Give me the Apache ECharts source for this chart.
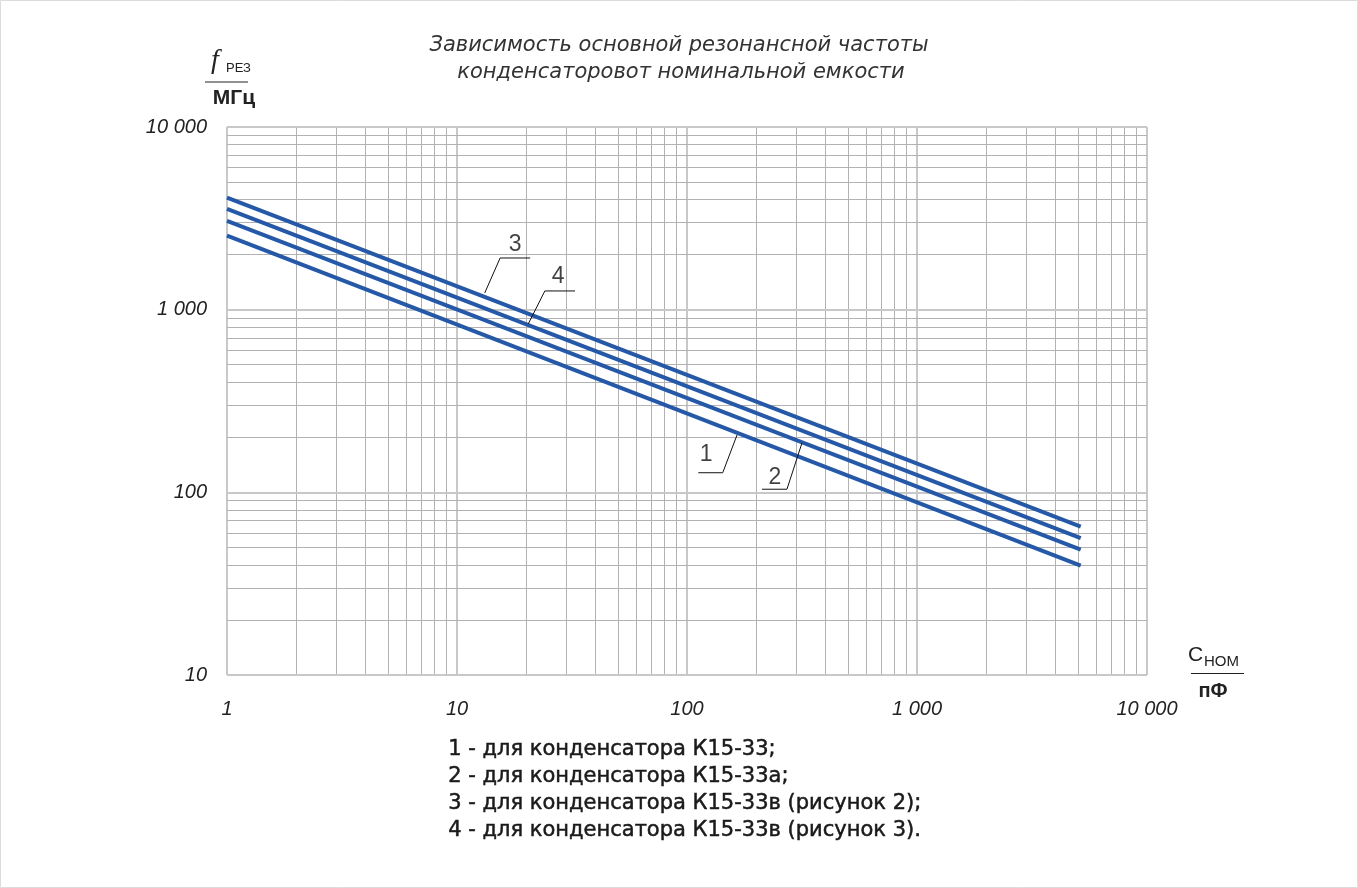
<!DOCTYPE html>
<html>
<head>
<meta charset="utf-8">
<script src="https://cdn.jsdelivr.net/npm/echarts@6/dist/echarts.min.js"></script>
<style>
  html, body { margin: 0; padding: 0; background: #fff; }
  #chart { width: 1358px; height: 888px; }
</style>
</head>
<body>
<div id="chart"></div>
<script>
// оси (логарифмические)
var xDecades = [1, 10, 100, 1000, 10000];
var yDecades = [10, 100, 1000, 10000];
var mantissas = [2, 3, 4, 5, 6, 7, 8, 9];

// C ном, пФ -- начало и конец каждой прямой
var capValues = [1, 5150];
// f рез, МГц
var line1 = [2540, 39.7];   // К15-33
var line2 = [3060, 48.6];   // К15-33а
var line3 = [4100, 64.9];   // К15-33в (рисунок 2)
var line4 = [3560, 56.1];   // К15-33в (рисунок 3)

// выноски с номерами кривых (в координатах графика)
var calloutNames  = ['1', '2', '3', '4'];
var calloutAnchor = [[165, 206], [316, 186], [13.2, 1234], [20.4, 835]];
var calloutElbow  = [[143, 128], [272, 104], [15.4, 1918], [24.1, 1266]];
var calloutEnd    = [[112, 128], [212, 104], [20.8, 1918], [32.6, 1266]];
var calloutText   = [[121, 160], [241, 121], [17.9, 2260], [27.5, 1510]];

var legendLines = [
  '1 - для конденсатора К15-33;',
  '2 - для конденсатора К15-33а;',
  '3 - для конденсатора К15-33в (рисунок 2);',
  '4 - для конденсатора К15-33в (рисунок 3).'
];

function fmt(v) {
  return String(Math.round(v)).replace(/\B(?=(\d{3})+(?!\d))/g, ' ');
}

function gridValues(decades) {
  var out = [];
  for (var i = 0; i < decades.length; i++) {
    out.push({ v: decades[i], major: true });
    if (i < decades.length - 1) {
      mantissas.forEach(function (m) { out.push({ v: decades[i] * m, major: false }); });
    }
  }
  return out;
}

var majorStyle = { color: '#c8c8c8', width: 2, type: 'solid' };
var minorStyle = { color: '#b2b2b2', width: 1, type: 'solid' };

var gridMarks = [];
gridValues(xDecades).forEach(function (g) {
  gridMarks.push({ xAxis: g.v, lineStyle: g.major ? majorStyle : minorStyle });
});
gridValues(yDecades).forEach(function (g) {
  gridMarks.push({ yAxis: g.v, lineStyle: g.major ? majorStyle : minorStyle });
});

function pts(ys) {
  return capValues.map(function (c, i) { return [c, ys[i]]; });
}

var blue = '#2559a8';
var seriesArr = [
  {
    name: 'grid', type: 'line', data: [], silent: true, z: 1,
    markLine: { z: 1, silent: true, symbol: ['none', 'none'], label: { show: false }, animation: false, data: gridMarks }
  }
];
[line1, line2, line3, line4].forEach(function (l, i) {
  seriesArr.push({
    name: String(i + 1), type: 'line', data: pts(l), showSymbol: false, symbol: 'none',
    lineStyle: { color: blue, width: 4, cap: 'butt' }, z: 10, silent: true
  });
});
calloutNames.forEach(function (n, i) {
  seriesArr.push({
    name: 'callout' + n, type: 'line', data: [calloutAnchor[i], calloutElbow[i], calloutEnd[i]],
    showSymbol: false, symbol: 'none', lineStyle: { color: '#111', width: 1 }, z: 11, silent: true
  });
});
seriesArr.push({
  name: 'labels', type: 'scatter', symbolSize: 0, z: 12, silent: true,
  data: calloutNames.map(function (n, i) { return { name: n, value: calloutText[i] }; }),
  label: { show: true, position: 'inside', formatter: '{b}', fontSize: 23, color: '#111', fontFamily: 'Liberation Sans' }
});

var legendGraphics = legendLines.map(function (t, i) {
  return {
    type: 'text', left: 448, top: 739 + i * 27,
    style: { text: t, fontSize: 21, fontFamily: 'DejaVu Sans', fill: '#1a1a1a', stroke: '#1a1a1a', lineWidth: 0.5 }
  };
});

var dom = document.getElementById('chart');
var myChart = echarts.init(dom);
var option = {
  animation: false,
  backgroundColor: '#fff',
  grid: { left: 227, top: 127, width: 920, height: 548 },
  xAxis: {
    type: 'log', logBase: 10, min: 1, max: 10000,
    axisLine: { show: false }, axisTick: { show: false }, splitLine: { show: false },
    axisLabel: {
      margin: 24, formatter: fmt, fontSize: 20, fontStyle: 'italic',
      fontFamily: 'Liberation Sans', color: '#222'
    }
  },
  yAxis: {
    type: 'log', logBase: 10, min: 10, max: 10000,
    axisLine: { show: false }, axisTick: { show: false }, splitLine: { show: false },
    axisLabel: {
      margin: 20, formatter: fmt, fontSize: 20, fontStyle: 'italic',
      fontFamily: 'Liberation Sans', color: '#222'
    }
  },
  graphic: [
    { type: 'rect', shape: { x: 0.5, y: 0.5, width: 1357, height: 887 }, style: { fill: 'none', stroke: '#dcdcdc', lineWidth: 1 }, silent: true },
    { type: 'text', x: 679, y: 46, style: { text: 'Зависимость основной резонансной частоты', fontSize: 21, fontStyle: 'italic', fontFamily: 'DejaVu Sans', fill: '#333', align: 'center', verticalAlign: 'middle' } },
    { type: 'text', x: 681, y: 73, style: { text: 'конденсаторовот номинальной емкости', fontSize: 21, fontStyle: 'italic', fontFamily: 'DejaVu Sans', fill: '#333', align: 'center', verticalAlign: 'middle' } },
    // f рез / МГц
    { type: 'text', x: 211, y: 47, style: { text: 'f', fontSize: 28, fontStyle: 'italic', fontFamily: 'Liberation Serif', fill: '#222' } },
    { type: 'text', x: 226, y: 68, style: { text: 'РЕЗ', fontSize: 13, fontFamily: 'Liberation Sans', fill: '#222', verticalAlign: 'middle' } },
    { type: 'line', shape: { x1: 205, y1: 82, x2: 248, y2: 82 }, style: { stroke: '#222', lineWidth: 1 } },
    { type: 'text', x: 234, y: 98, style: { text: 'МГц', fontSize: 21, fontWeight: 'bold', fontFamily: 'Liberation Sans', fill: '#222', align: 'center', verticalAlign: 'middle' } },
    // C ном / пФ
    { type: 'text', x: 1188, y: 655, style: { text: 'С', fontSize: 21, fontFamily: 'Liberation Sans', fill: '#222', verticalAlign: 'middle' } },
    { type: 'text', x: 1204, y: 662, style: { text: 'НОМ', fontSize: 15, fontFamily: 'Liberation Sans', fill: '#222', verticalAlign: 'middle' } },
    { type: 'line', shape: { x1: 1191, y1: 673.5, x2: 1244, y2: 673.5 }, style: { stroke: '#222', lineWidth: 1 } },
    { type: 'text', x: 1213, y: 691, style: { text: 'пФ', fontSize: 20, fontWeight: 'bold', fontFamily: 'Liberation Sans', fill: '#222', align: 'center', verticalAlign: 'middle' } }
  ].concat(legendGraphics),
  series: seriesArr
};
myChart.setOption(option, true);
window.onresize = myChart.resize;
</script>
</body>
</html>
